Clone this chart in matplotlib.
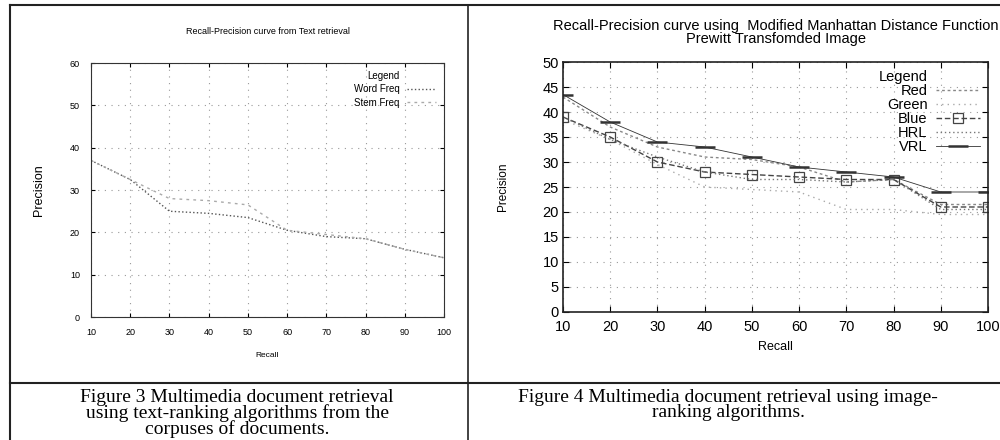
import matplotlib.pyplot as plt
from matplotlib.lines import Line2D

recall = [10, 20, 30, 40, 50, 60, 70, 80, 90, 100]

# Figure 3 - text retrieval
word_freq = [37, 32.5, 25, 24.5, 23.5, 20.5, 19, 18.5, 16, 14]
stem_freq = [37, 32.5, 28, 27.5, 26.5, 20.5, 19.5, 18.5, 16, 14]

# Figure 4 - image retrieval
red = [43, 37, 33, 31, 30.5, 29, 26, 26.5, 21.5, 21.5]
green = [38.5, 34.5, 29.5, 25, 24.5, 24, 20.5, 20.5, 19.5, 19.5]
blue = [39, 35, 30, 28, 27.5, 27, 26.5, 26.5, 21, 21]
hrl = [39, 34.5, 31, 28, 26.5, 26.5, 26, 26.5, 20.5, 20.5]
vrl = [43.5, 38, 34, 33, 31, 29, 28, 27, 24, 24]

caption3 = "Figure 3 Multimedia document retrieval\nusing text-ranking algorithms from the\ncorpuses of documents."
caption4 = "Figure 4 Multimedia document retrieval using image-\nranking algorithms."

plt.rcParams['font.family'] = ['Liberation Sans', 'DejaVu Sans']

fig = plt.figure(figsize=(10, 4.4), dpi=100)

# ---- left chart
ax1 = fig.add_axes([0.091, 0.2795, 0.353, 0.577])
ax1.plot(recall, word_freq, color='#555555', linestyle=':', linewidth=1, label='Word Freq')
ax1.plot(recall, stem_freq, color='#aaaaaa', linestyle=(0, (2, 3)), linewidth=1, label='Stem Freq')
ax1.set_xlim(10, 100)
ax1.set_ylim(0, 60)
ax1.set_xticks(recall)
ax1.set_yticks(range(0, 61, 10))
ax1.tick_params(direction='in', top=True, right=True, labelsize=6.5, length=3, pad=8)
ax1.grid(True, color='#999999', linestyle=(0, (1, 5)), linewidth=0.8)
ax1.set_title('Recall-Precision curve from Text retrieval', fontsize=6.5, pad=21)
ax1.set_xlabel('Recall', fontsize=6, labelpad=11)
ax1.set_ylabel('Precision', fontsize=9, labelpad=18)
for s in ax1.spines.values():
    s.set_color('#333333')
    s.set_linewidth(0.8)
dummy = Line2D([], [], color='none')
h, l = ax1.get_legend_handles_labels()
ax1.legend([dummy] + h, ['Legend'] + l, loc='upper right', frameon=False, markerfirst=False,
           fontsize=7, handlelength=3, labelspacing=0.35, borderaxespad=0.4)

# ---- right chart
ax2 = fig.add_axes([0.563, 0.291, 0.425, 0.568])
ax2.plot(recall, red, color='#888888', linestyle=(0, (2, 2)), linewidth=1, label='Red')
ax2.plot(recall, green, color='#aaaaaa', linestyle=(0, (1, 3)), linewidth=1, label='Green')
ax2.plot(recall, blue, color='#444444', linestyle=(0, (4, 2)), linewidth=1, marker='s',
         markersize=7, markerfacecolor='none', markeredgewidth=0.9, label='Blue')
ax2.plot(recall, hrl, color='#777777', linestyle=(0, (1, 2)), linewidth=1, label='HRL')
ax2.plot(recall, vrl, color='#333333', linestyle='-', linewidth=0.6, marker='_',
         markersize=14, markeredgewidth=1.8, label='VRL')
ax2.set_xlim(10, 100)
ax2.set_ylim(0, 50)
ax2.set_xticks(recall)
ax2.set_yticks(range(0, 51, 5))
ax2.tick_params(direction='in', top=True, right=True, labelsize=10.5, length=4, pad=3)
ax2.tick_params(axis='x', pad=6)
ax2.grid(True, color='#999999', linestyle=(0, (1, 5)), linewidth=0.8)
ax2.set_title('Recall-Precision curve using  Modified Manhattan Distance Function\nPrewitt Transfomded Image',
              fontsize=10.5, pad=14, linespacing=0.9)
ax2.set_xlabel('Recall', fontsize=9, labelpad=5)
ax2.set_ylabel('Precision', fontsize=8.5, labelpad=24)
for s in ax2.spines.values():
    s.set_color('#222222')
    s.set_linewidth(1.2)
h, l = ax2.get_legend_handles_labels()
ax2.legend([dummy] + h, ['Legend'] + l, loc='upper right', frameon=False, markerfirst=False,
           fontsize=10.5, handlelength=3, labelspacing=0.0, borderaxespad=0.15, handletextpad=0.6)

# ---- table borders
fig.add_artist(Line2D([0.01, 1.0], [0.988, 0.988], color='#222222', linewidth=1.5))
fig.add_artist(Line2D([0.01, 0.01], [0.0, 0.988], color='#222222', linewidth=1.5))
fig.add_artist(Line2D([0.468, 0.468], [0.0, 0.988], color='#222222', linewidth=1.2))
fig.add_artist(Line2D([0.01, 1.0], [0.1295, 0.1295], color='#222222', linewidth=1.5))

# ---- captions
fig.text(0.237, 0.117, caption3, ha='center', va='top', fontsize=14,
         family=['Liberation Serif', 'DejaVu Serif'], linespacing=0.88)
fig.text(0.728, 0.117, caption4, ha='center', va='top', fontsize=14,
         family=['Liberation Serif', 'DejaVu Serif'], linespacing=0.88)

fig.savefig('out.png', dpi=100)
